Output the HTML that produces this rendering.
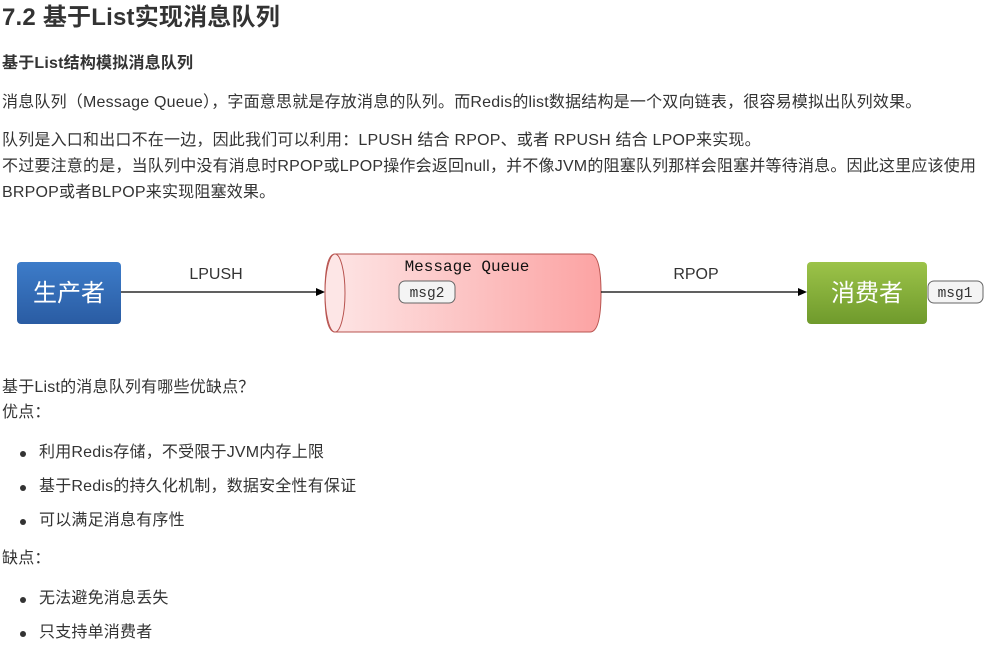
<!DOCTYPE html>
<html><head><meta charset="utf-8"><style>
body{margin:0;background:#fff;color:#333;font-family:"Liberation Sans","Noto Sans CJK SC",sans-serif;}
.t{position:absolute;left:2px;white-space:nowrap;font-size:16px;line-height:26px;letter-spacing:0.2px}
.b{font-weight:bold}
.li{position:absolute;left:22px;font-size:16px;line-height:26px;white-space:nowrap;letter-spacing:0.2px}
.li:before{content:"";position:absolute;left:-2px;top:11px;width:6px;height:6px;border-radius:50%;background:#333}
.li span{margin-left:17px}
</style></head><body>
<div class="t b" style="top:3px;font-size:24px;line-height:30px">7.2 基于List实现消息队列</div>
<div class="t b" style="top:51px;font-size:16px">基于List结构模拟消息队列</div>
<div class="t" style="top:90px">消息队列（Message Queue），字面意思就是存放消息的队列。而Redis的list数据结构是一个双向链表，很容易模拟出队列效果。</div>
<div class="t" style="top:128px">队列是入口和出口不在一边，因此我们可以利用：LPUSH 结合 RPOP、或者 RPUSH 结合 LPOP来实现。</div>
<div class="t" style="top:154px">不过要注意的是，当队列中没有消息时RPOP或LPOP操作会返回null，并不像JVM的阻塞队列那样会阻塞并等待消息。因此这里应该使用</div>
<div class="t" style="top:180px">BRPOP或者BLPOP来实现阻塞效果。</div>

<svg style="position:absolute;left:0;top:240px" width="985" height="100">
<defs>
<linearGradient id="bl" x1="0" y1="0" x2="0" y2="1"><stop offset="0" stop-color="#3d7cc9"/><stop offset="1" stop-color="#2a5ca3"/></linearGradient>
<linearGradient id="gr" x1="0" y1="0" x2="0" y2="1"><stop offset="0" stop-color="#9cc349"/><stop offset="1" stop-color="#6f9a2c"/></linearGradient>
<linearGradient id="pk" x1="0" y1="0" x2="1" y2="0"><stop offset="0" stop-color="#fde6e6"/><stop offset="1" stop-color="#fca3a3"/></linearGradient>
</defs>
<rect x="17" y="22" width="104" height="62" rx="4" fill="url(#bl)"/>
<text x="69" y="61" fill="#fff" font-size="24" text-anchor="middle" font-family="Noto Sans CJK SC,sans-serif">生产者</text>
<line x1="121" y1="52" x2="318" y2="52" stroke="#000" stroke-width="1.2"/>
<polygon points="325,52 316,48 316,56" fill="#000"/>
<text x="216" y="39" font-size="16" text-anchor="middle" fill="#333" font-family="Liberation Sans,sans-serif">LPUSH</text>
<path d="M335,14 L590,14 Q601,14 601,53 Q601,92 590,92 L335,92 Q325,92 325,53 Q325,14 335,14Z" fill="url(#pk)" stroke="#b85450" stroke-width="1"/>
<ellipse cx="335" cy="53" rx="10" ry="39" fill="#fde6e6" stroke="#b85450" stroke-width="1"/>
<text x="467" y="31" font-size="16" text-anchor="middle" fill="#111" font-family="Liberation Mono,monospace">Message Queue</text>
<rect x="399" y="41" width="56" height="22" rx="6" fill="#f4f4f4" stroke="#666"/>
<text x="427" y="57" font-size="14.5" text-anchor="middle" fill="#333" font-family="Liberation Mono,monospace">msg2</text>
<line x1="601" y1="52" x2="800" y2="52" stroke="#000" stroke-width="1.2"/>
<polygon points="807,52 798,48 798,56" fill="#000"/>
<text x="696" y="39" font-size="16" text-anchor="middle" fill="#333" font-family="Liberation Sans,sans-serif">RPOP</text>
<rect x="807" y="22" width="120" height="62" rx="4" fill="url(#gr)"/>
<text x="867" y="61" fill="#fff" font-size="24" text-anchor="middle" font-family="Noto Sans CJK SC,sans-serif">消费者</text>
<rect x="928" y="41" width="55" height="22" rx="6" fill="#f4f4f4" stroke="#666"/>
<text x="955" y="57" font-size="14.5" text-anchor="middle" fill="#333" font-family="Liberation Mono,monospace">msg1</text>
</svg>

<div class="t" style="top:375px">基于List的消息队列有哪些优缺点？</div>
<div class="t" style="top:400px">优点：</div>
<div class="li" style="top:440px"><span>利用Redis存储，不受限于JVM内存上限</span></div>
<div class="li" style="top:474px"><span>基于Redis的持久化机制，数据安全性有保证</span></div>
<div class="li" style="top:508px"><span>可以满足消息有序性</span></div>
<div class="t" style="top:546px">缺点：</div>
<div class="li" style="top:586px"><span>无法避免消息丢失</span></div>
<div class="li" style="top:620px"><span>只支持单消费者</span></div>
</body></html>
